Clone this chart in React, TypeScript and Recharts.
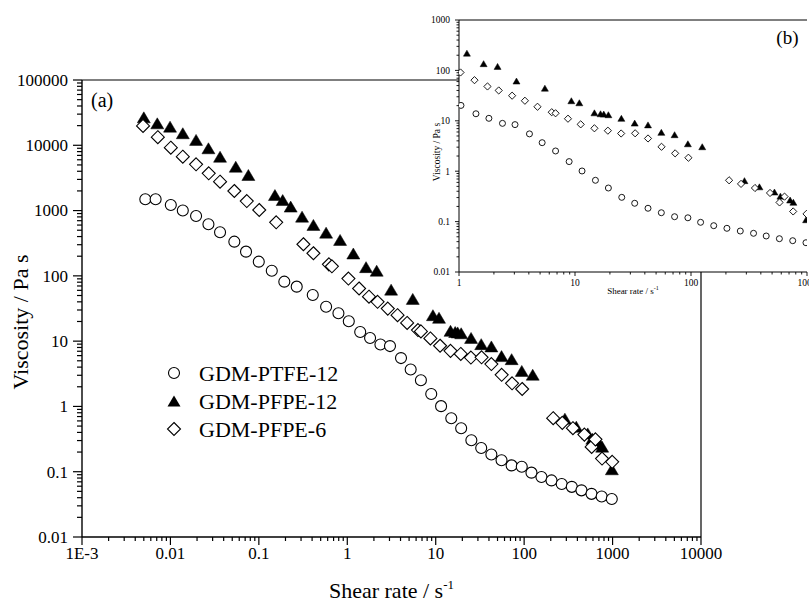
import React from 'react';
import { ScatterChart, Scatter, XAxis, YAxis, ReferenceLine, Legend } from 'recharts';

const FONT = '"Liberation Serif", "Times New Roman", Times, serif';

// ---- Data ----
const shearPTFE12 = [0.0052, 0.0068, 0.0101, 0.0138, 0.0195, 0.0269, 0.0364, 0.0528, 0.0716, 0.0998, 0.14, 0.194, 0.268, 0.407, 0.576, 0.794, 1.04, 1.4, 1.81, 2.37, 3.04, 4.05, 5.21, 6.8, 8.9, 11.5, 15.0, 19.4, 25.3, 32.7, 42.6, 55.5, 72.2, 94, 121, 157, 204, 266, 346, 445, 578, 753, 980];
const viscPTFE12 = [1490, 1490, 1220, 1000, 826, 617, 466, 334, 235, 165, 120, 81.5, 68.4, 50.9, 33.7, 26.7, 20.2, 13.8, 11.2, 8.9, 8.4, 5.5, 3.68, 2.52, 1.55, 1.01, 0.66, 0.464, 0.303, 0.231, 0.184, 0.15, 0.125, 0.119, 0.0968, 0.083, 0.0736, 0.065, 0.0586, 0.0518, 0.0458, 0.0418, 0.0381];

const shearPFPE12 = [0.005, 0.0071, 0.0099, 0.0138, 0.0195, 0.0269, 0.0364, 0.0548, 0.0761, 0.152, 0.186, 0.229, 0.308, 0.414, 0.576, 0.829, 1.17, 1.63, 2.15, 3.13, 5.5, 9.3, 10.9, 14.7, 16.6, 17.7, 19.4, 25.1, 32.7, 42.6, 55.5, 72.2, 94, 125, 289, 389, 524, 590, 715, 763, 982];
const viscPFPE12 = [26800, 21700, 19300, 15300, 12100, 9000, 6680, 4700, 3510, 1730, 1450, 1150, 807, 603, 459, 355, 220, 136, 120, 61.5, 44.4, 25, 22.8, 14.4, 13.8, 13.6, 13.2, 11.2, 9.0, 8.3, 5.9, 5.3, 3.5, 3.06, 0.65, 0.49, 0.386, 0.32, 0.268, 0.242, 0.109];

const shearPFPE6 = [0.0049, 0.0072, 0.0101, 0.0138, 0.0195, 0.0271, 0.0364, 0.0528, 0.073, 0.101, 0.157, 0.319, 0.414, 0.62, 0.67, 1.03, 1.36, 1.76, 2.2, 2.87, 3.7, 4.75, 6.3, 6.8, 8.7, 11.2, 14.7, 19.2, 25, 33, 42.6, 55.7, 73, 95, 213, 270, 356, 480, 580, 640, 760, 990];
const viscPFPE6 = [19800, 13300, 9180, 6680, 5120, 3720, 2770, 1995, 1400, 1020, 662, 305, 222, 150, 140, 91, 64, 48, 40, 31.5, 25, 19, 14.8, 14.1, 11, 8.5, 7.1, 6.37, 5.6, 5.65, 4.46, 3.05, 2.26, 1.85, 0.66, 0.56, 0.464, 0.37, 0.24, 0.313, 0.159, 0.142];

const seriesNames = ['GDM-PTFE-12', 'GDM-PFPE-12', 'GDM-PFPE-6'];

// ---- Tick labels ----
const mainXMajor = [0.001, 0.01, 0.1, 1, 10, 100, 1000, 10000];
const mainXLabels = ['1E-3', '0.01', '0.1', '1', '10', '100', '1000', '10000'];
const mainYMajor = [0.01, 0.1, 1, 10, 100, 1000, 10000, 100000];
const mainYLabels = ['0.01', '0.1', '1', '10', '100', '1000', '10000', '100000'];
const insetXMajor = [1, 10, 100, 1000];
const insetXLabels = ['1', '10', '100', '1000'];
const insetYMajor = [0.01, 0.1, 1, 10, 100, 1000];
const insetYLabels = ['0.01', '0.1', '1', '10', '100', '1000'];
const minorSteps = [2, 3, 4, 5, 6, 7, 8, 9];

const toPoints = (xs: number[], ys: number[]) => xs.map((x, i) => ({ x, y: ys[i] }));
const ptfe = toPoints(shearPTFE12, viscPTFE12);
const pfpe12 = toPoints(shearPFPE12, viscPFPE12);
const pfpe6 = toPoints(shearPFPE6, viscPFPE6);
const insetRange = (pts: { x: number; y: number }[]) => pts.filter((p) => p.x >= 1);

const withMinors = (majors: number[]) => {
  const out: number[] = [];
  majors.forEach((m, i) => {
    out.push(m);
    if (i < majors.length - 1) minorSteps.forEach((s) => out.push(m * s));
  });
  return out;
};
const majorIndex = (majors: number[], v: number) => majors.findIndex((m) => Math.abs(v - m) <= m * 1e-6);

type TickCfg = {
  orient: 'bottom' | 'left' | 'right';
  majors: number[];
  labels: string[] | null;
  majorLen: number;
  minorLen: number;
  fontSize: number;
  labelOffset: number;
  baseShift: number;
  sw: number;
};

const makeTick = (cfg: TickCfg) => (props: any) => {
  const { x, y, payload } = props;
  const v = payload?.value;
  const idx = majorIndex(cfg.majors, v);
  const len = idx >= 0 ? cfg.majorLen : cfg.minorLen;
  let line: React.ReactNode;
  let label: React.ReactNode = null;
  if (cfg.orient === 'bottom') {
    line = <line x1={x} x2={x} y1={y} y2={y + len} stroke="#000" strokeWidth={cfg.sw} />;
    if (idx >= 0 && cfg.labels)
      label = (
        <text x={x} y={y + cfg.labelOffset} textAnchor="middle" fontSize={cfg.fontSize} fontFamily={FONT} fill="#000">
          {cfg.labels[idx]}
        </text>
      );
  } else if (cfg.orient === 'left') {
    line = <line x1={x - len} x2={x} y1={y} y2={y} stroke="#000" strokeWidth={cfg.sw} />;
    if (idx >= 0 && cfg.labels)
      label = (
        <text x={x - cfg.labelOffset} y={y + cfg.baseShift} textAnchor="end" fontSize={cfg.fontSize} fontFamily={FONT} fill="#000">
          {cfg.labels[idx]}
        </text>
      );
  } else {
    line = <line x1={x - len} x2={x} y1={y} y2={y} stroke="#000" strokeWidth={cfg.sw} />;
  }
  return (
    <g>
      {line}
      {label}
    </g>
  );
};

// ---- Marker shapes ----
const circleShape = (r: number, sw: number) => (p: any) => (
  <circle cx={p.cx} cy={p.cy} r={r} fill="#fff" stroke="#000" strokeWidth={sw} />
);
const triangleShape = (w: number, h: number) => (p: any) => (
  <path
    d={`M${p.cx},${p.cy - h / 2} L${p.cx + w / 2},${p.cy + h / 2} L${p.cx - w / 2},${p.cy + h / 2} Z`}
    fill="#000"
    stroke="#000"
    strokeWidth={0.5}
  />
);
const diamondShape = (d: number, sw: number) => (p: any) => (
  <path
    d={`M${p.cx},${p.cy - d} L${p.cx + d},${p.cy} L${p.cx},${p.cy + d} L${p.cx - d},${p.cy} Z`}
    fill="#fff"
    stroke="#000"
    strokeWidth={sw}
  />
);

const legendSymbol = (name: string, cx: number, cy: number) => {
  if (name === seriesNames[0]) return <circle cx={cx} cy={cy} r={5.5} fill="#fff" stroke="#000" strokeWidth={1.1} />;
  if (name === seriesNames[1])
    return <path d={`M${cx},${cy - 5.5} L${cx + 6.5},${cy + 5.5} L${cx - 6.5},${cy + 5.5} Z`} fill="#000" />;
  return (
    <path d={`M${cx},${cy - 6.5} L${cx + 6.5},${cy} L${cx},${cy + 6.5} L${cx - 6.5},${cy} Z`} fill="#fff" stroke="#000" strokeWidth={1.1} />
  );
};

const renderLegend = (props: any) => {
  const items: any[] = props?.payload ?? [];
  const present = new Set(items.map((it) => String(it.value)));
  const names = present.size ? seriesNames.filter((n) => present.has(n)) : seriesNames;
  return (
    <svg width={220} height={90} style={{ display: 'block' }}>
      {names.map((n, i) => {
        const cy = 15 + i * 28;
        return (
          <g key={n}>
            {legendSymbol(n, 14, cy)}
            <text x={39} y={cy + 7.5} fontSize={22} fontFamily={FONT} fill="#000">
              {n}
            </text>
          </g>
        );
      })}
    </svg>
  );
};

const mainXTitle = () => (
  <text x={391.5} y={598} textAnchor="middle" fontSize={22} fontFamily={FONT} fill="#000">
    Shear rate / s
    <tspan dy={-9} fontSize={13}>
      -1
    </tspan>
  </text>
);
const mainYTitle = () => (
  <text x={28} y={322} transform="rotate(-90 28 322)" textAnchor="middle" fontSize={22} fontFamily={FONT} fill="#000">
    Viscosity / Pa s
  </text>
);
const insetXTitle = () => (
  <text x={233} y={294} textAnchor="middle" fontSize={9} fontFamily={FONT} fill="#000">
    Shear rate / s
    <tspan dy={-4} fontSize={6}>
      -1
    </tspan>
  </text>
);
const insetYTitle = () => (
  <text x={40} y={152} transform="rotate(-90 40 152)" textAnchor="middle" fontSize={9.5} fontFamily={FONT} fill="#000">
    Viscosity / Pa s
  </text>
);

export default function App() {
  const mainX = withMinors(mainXMajor);
  const mainY = withMinors(mainYMajor);
  const inX = withMinors(insetXMajor);
  const inY = withMinors(insetYMajor);
  return (
    <div style={{ position: 'absolute', left: 0, top: 0, width: 809, height: 603, overflow: 'hidden', background: '#fff' }}>
      <div style={{ position: 'absolute', left: 0, top: 0 }}>
        <ScatterChart width={809} height={603} margin={{ top: 80, right: 108, bottom: 0, left: 0 }}>
          <XAxis
            type="number"
            dataKey="x"
            scale="log"
            domain={[0.001, 10000]}
            allowDataOverflow
            ticks={mainX}
            interval={0}
            tickLine={false}
            tickSize={0}
            tickMargin={0}
            height={66}
            axisLine={{ stroke: '#000', strokeWidth: 1.4 }}
            tick={makeTick({ orient: 'bottom', majors: mainXMajor, labels: mainXLabels, majorLen: 8, minorLen: 4, fontSize: 17, labelOffset: 22, baseShift: 0, sw: 1.2 })}
            label={mainXTitle}
          />
          <YAxis
            type="number"
            dataKey="y"
            scale="log"
            domain={[0.01, 100000]}
            allowDataOverflow
            ticks={mainY}
            interval={0}
            tickLine={false}
            tickSize={0}
            tickMargin={0}
            width={82}
            axisLine={{ stroke: '#000', strokeWidth: 1.4 }}
            tick={makeTick({ orient: 'left', majors: mainYMajor, labels: mainYLabels, majorLen: 9, minorLen: 5, fontSize: 17, labelOffset: 14, baseShift: 5.8, sw: 1.2 })}
            label={mainYTitle}
          />
          <ReferenceLine y={100000} stroke="#000" strokeWidth={1.2} />
          <ReferenceLine x={10000} stroke="#000" strokeWidth={1.2} />
          <Legend
            layout="vertical"
            align="center"
            verticalAlign="middle"
            content={renderLegend}
            wrapperStyle={{ left: 160, top: 358, width: 220, height: 90 }}
          />
          <Scatter name={seriesNames[0]} data={ptfe} shape={circleShape(5.5, 1.1)} isAnimationActive={false} />
          <Scatter name={seriesNames[1]} data={pfpe12} shape={triangleShape(13, 11)} isAnimationActive={false} />
          <Scatter name={seriesNames[2]} data={pfpe6} shape={diamondShape(6.5, 1.1)} isAnimationActive={false} />
        </ScatterChart>
        <svg width={809} height={603} style={{ position: 'absolute', left: 0, top: 0, pointerEvents: 'none' }}>
          <text x={91} y={107} fontSize={20} fontFamily={FONT} fill="#000">
            (a)
          </text>
        </svg>
      </div>

      <div style={{ position: 'absolute', left: 459, top: 20, width: 348, height: 252, background: '#fff' }} />

      <div style={{ position: 'absolute', left: 400, top: 0, width: 409, height: 300 }}>
        <ScatterChart width={409} height={300} margin={{ top: 20, right: 2, bottom: 0, left: 0 }}>
          <XAxis
            type="number"
            dataKey="x"
            scale="log"
            domain={[1, 1000]}
            allowDataOverflow
            ticks={inX}
            interval={0}
            tickLine={false}
            tickSize={0}
            tickMargin={0}
            height={28}
            axisLine={{ stroke: '#000', strokeWidth: 1 }}
            tick={makeTick({ orient: 'bottom', majors: insetXMajor, labels: insetXLabels, majorLen: 4, minorLen: 2.5, fontSize: 9.5, labelOffset: 14, baseShift: 0, sw: 0.9 })}
            label={insetXTitle}
          />
          <YAxis
            type="number"
            dataKey="y"
            scale="log"
            domain={[0.01, 1000]}
            allowDataOverflow
            ticks={inY}
            interval={0}
            tickLine={false}
            tickSize={0}
            tickMargin={0}
            width={59}
            axisLine={{ stroke: '#000', strokeWidth: 1 }}
            tick={makeTick({ orient: 'left', majors: insetYMajor, labels: insetYLabels, majorLen: 4, minorLen: 2.5, fontSize: 9.5, labelOffset: 9, baseShift: 3.3, sw: 0.9 })}
            label={insetYTitle}
          />
          <YAxis
            yAxisId="right"
            orientation="right"
            type="number"
            scale="log"
            domain={[0.01, 1000]}
            allowDataOverflow
            ticks={inY}
            interval={0}
            tickLine={false}
            tickSize={0}
            tickMargin={0}
            width={0}
            axisLine={{ stroke: '#000', strokeWidth: 1 }}
            tick={makeTick({ orient: 'right', majors: insetYMajor, labels: null, majorLen: 4, minorLen: 2.5, fontSize: 9.5, labelOffset: 0, baseShift: 0, sw: 0.9 })}
          />
          <ReferenceLine y={1000} stroke="#000" strokeWidth={1} />
          <Scatter name={seriesNames[0]} data={insetRange(ptfe)} shape={circleShape(3, 0.9)} isAnimationActive={false} />
          <Scatter name={seriesNames[1]} data={insetRange(pfpe12)} shape={triangleShape(7, 6)} isAnimationActive={false} />
          <Scatter name={seriesNames[2]} data={insetRange(pfpe6)} shape={diamondShape(3.6, 0.9)} isAnimationActive={false} />
        </ScatterChart>
        <svg width={409} height={300} style={{ position: 'absolute', left: 0, top: 0, pointerEvents: 'none' }}>
          <text x={398.5} y={44} textAnchor="end" fontSize={19} fontFamily={FONT} fill="#000">
            (b)
          </text>
        </svg>
      </div>
    </div>
  );
}
